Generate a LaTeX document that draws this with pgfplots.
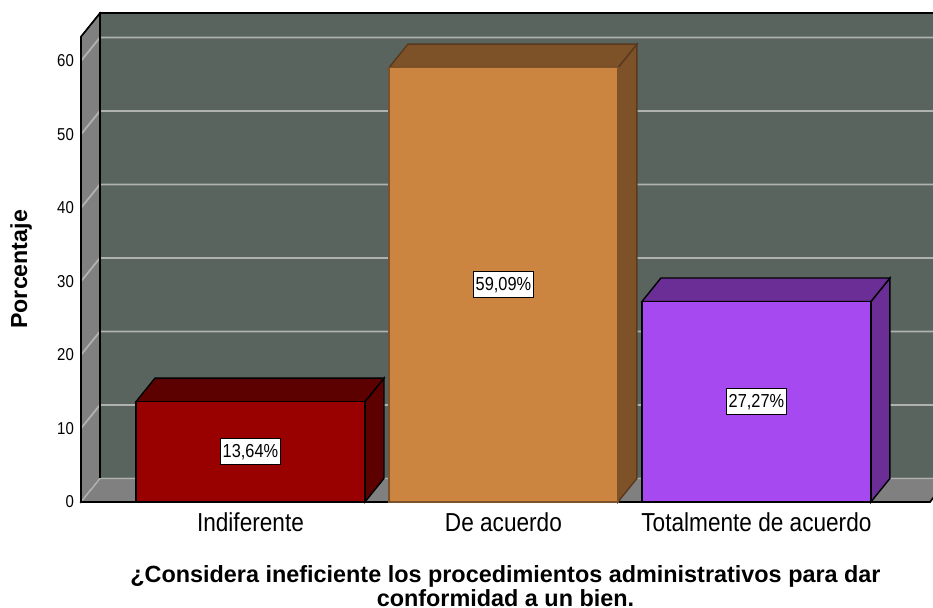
\documentclass[border=0pt]{standalone}
\usepackage{fontspec}
\setmainfont{Liberation Sans}
\newfontfamily\cond{Liberation Sans}[FakeStretch=0.87]
\usepackage{pgfplots}
\pgfplotsset{compat=1.18}
\newcommand\tightlines{\setlength{\lineskiplimit}{-20pt}\setlength{\lineskip}{0pt}}
\definecolor{wallc}{RGB}{89,100,95}
\definecolor{sidec}{RGB}{128,128,128}
\definecolor{gridc}{RGB}{175,178,176}
\definecolor{redf}{RGB}{153,0,0}
\definecolor{redd}{RGB}{92,0,0}
\definecolor{orf}{RGB}{204,133,64}
\definecolor{ord}{RGB}{125,82,41}
\definecolor{puf}{RGB}{167,73,240}
\definecolor{pud}{RGB}{106,46,150}
\begin{document}
\begin{tikzpicture}
\begin{axis}[
  x=126.5pt, y=3.675pt,
  xmin=-0.670, xmax=2.686, ymin=0, ymax=63.3,
  clip=false,
  axis line style={draw=none},
  tick style={draw=none},
  xtick={0,1,2},
  xticklabels={Indiferente, De acuerdo, Totalmente de acuerdo},
  ytick={0,10,20,30,40,50,60},
  /pgf/number format/assume math mode=true,
  yticklabel style={font=\cond\fontsize{8.6}{10}\selectfont},
  xticklabel style={font=\cond\fontsize{13}{15}\selectfont, yshift=-2pt},
  xlabel={¿Considera ineficiente los procedimientos administrativos para dar\\[1.6pt]conformidad a un bien.},
  xlabel style={font={\bfseries\fontsize{11.7}{10}\selectfont\tightlines}, align=center, inner ysep=0pt, at={(rel axis cs:0.5,-0.1808)}, anchor=center},
  ylabel={Porcentaje},
  ylabel style={font=\bfseries\fontsize{11.6}{14}\selectfont, at={(rel axis cs:-0.0706,0.5)}, anchor=center},
]
% back wall
\addplot[fill=wallc, draw=black, line width=0.75pt] coordinates {(-0.595,3.2) (2.761,3.2) (2.761,66.5) (-0.595,66.5)} -- cycle;
% left wall
\addplot[fill=sidec, draw=black, line width=0.6pt] coordinates {(-0.670,0) (-0.670,63.3) (-0.595,66.5) (-0.595,3.2)} -- cycle;
% floor
\addplot[fill=sidec, draw=black, line width=0.6pt] coordinates {(-0.670,0) (2.686,0) (2.761,3.2) (-0.595,3.2)} -- cycle;
% grid lines
\addplot[gridc, line width=0.9pt] coordinates {(-0.670,0) (-0.595,3.2) (2.761,3.2)};
\addplot[gridc, line width=0.9pt] coordinates {(-0.670,10) (-0.595,13.2) (2.761,13.2)};
\addplot[gridc, line width=0.9pt] coordinates {(-0.670,20) (-0.595,23.2) (2.761,23.2)};
\addplot[gridc, line width=0.9pt] coordinates {(-0.670,30) (-0.595,33.2) (2.761,33.2)};
\addplot[gridc, line width=0.9pt] coordinates {(-0.670,40) (-0.595,43.2) (2.761,43.2)};
\addplot[gridc, line width=0.9pt] coordinates {(-0.670,50) (-0.595,53.2) (2.761,53.2)};
\addplot[gridc, line width=0.9pt] coordinates {(-0.670,60) (-0.595,63.2) (2.761,63.2)};
% wall edges
\addplot[black, line width=1.1pt] coordinates {(-0.595,3.2) (-0.595,66.5) (2.761,66.5)};
\addplot[black, line width=0.8pt] coordinates {(-0.670,0) (-0.670,63.3) (-0.595,66.5)};
\addplot[black, line width=0.8pt] coordinates {(-0.670,0) (2.686,0) (2.761,3.2)};
% bar 1
\addplot[fill=redd, draw=black, line width=0.7pt] coordinates {(0.4526,0) (0.5277,3.2) (0.5277,16.84) (0.4526,13.64)} -- cycle;
\addplot[fill=redd, draw=black, line width=0.7pt] coordinates {(-0.4526,13.64) (0.4526,13.64) (0.5277,16.84) (-0.3775,16.84)} -- cycle;
\addplot[fill=redf, draw=black, line width=0.7pt] coordinates {(-0.4526,0) (0.4526,0) (0.4526,13.64) (-0.4526,13.64)} -- cycle;
% bar 2
\addplot[fill=ord, draw=ord!70!black, line width=0.7pt] coordinates {(1.4526,0) (1.5277,3.2) (1.5277,62.29) (1.4526,59.09)} -- cycle;
\addplot[fill=ord, draw=ord!70!black, line width=0.7pt] coordinates {(0.5474,59.09) (1.4526,59.09) (1.5277,62.29) (0.6225,62.29)} -- cycle;
\addplot[fill=orf, draw=ord, line width=0.7pt] coordinates {(0.5474,0) (1.4526,0) (1.4526,59.09) (0.5474,59.09)} -- cycle;
% bar 3
\addplot[fill=pud, draw=black, line width=0.7pt] coordinates {(2.4526,0) (2.5277,3.2) (2.5277,30.47) (2.4526,27.27)} -- cycle;
\addplot[fill=pud, draw=black, line width=0.7pt] coordinates {(1.5474,27.27) (2.4526,27.27) (2.5277,30.47) (1.6225,30.47)} -- cycle;
\addplot[fill=puf, draw=black, line width=0.7pt] coordinates {(1.5474,0) (2.4526,0) (2.4526,27.27) (1.5474,27.27)} -- cycle;
% value labels
\tikzset{vlab/.style={fill=white, draw=black, line width=0.5pt, inner xsep=1.3pt, inner ysep=2.2pt, text height=7pt, text depth=1.6pt, font=\cond\fontsize{9.4}{10}\selectfont}}
\node[vlab] at (axis cs:0,6.82) {13,64\%};
\node[vlab] at (axis cs:1,29.545) {59,09\%};
\node[vlab] at (axis cs:2,13.635) {27,27\%};
\coordinate (bbtl) at (axis cs:-0.990,68.3);
\coordinate (bbbr) at (axis cs:2.698,-14.42);
\end{axis}
\pgfresetboundingbox
\useasboundingbox (bbtl) rectangle (bbbr);
\end{tikzpicture}
\end{document}
